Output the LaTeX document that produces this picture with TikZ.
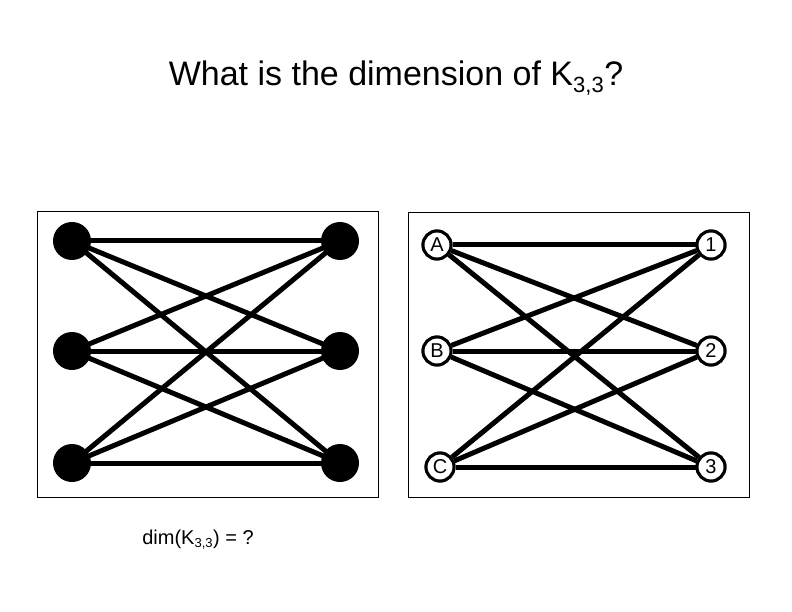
\documentclass[tikz,border=0pt]{standalone}
\usepackage{fontspec}
\setmainfont{Liberation Sans}
\begin{document}
\begin{tikzpicture}[x=1pt,y=-1pt,
  edge/.style={line width=5pt},
  dot/.style={circle,fill=black,minimum size=38pt,inner sep=0pt},
  lab/.style={circle,draw,line width=3pt,fill=white,minimum size=28pt,inner sep=0pt,font=\fontsize{20}{20}\selectfont},
  frame/.style={draw,line width=0.8pt}]
\useasboundingbox (0,0) rectangle (792,612);
\node (title) at (396,78) {\fontsize{34}{34}\selectfont What is the dimension of K$_{\textrm{\fontsize{22}{22}\selectfont 3,3}}$?};
\draw[frame] (37,211) rectangle (378,497);
\draw[frame] (408,212) rectangle (749,497);
\node[dot] (l1) at (72,241) {};
\node[dot] (l2) at (72,351) {};
\node[dot] (l3) at (72,463) {};
\node[dot] (r1) at (340,241) {};
\node[dot] (r2) at (340,351) {};
\node[dot] (r3) at (340,463) {};
\foreach \i in {1,2,3}{\foreach \j in {1,2,3}{\draw[edge] (l\i.center) -- (r\j.center);}}
\node[lab] (A) at (437,245) {};
\node[lab] (B) at (437,351) {};
\node[lab] (C) at (440,467) {};
\node[lab] (n1) at (711,245) {};
\node[lab] (n2) at (711,351) {};
\node[lab] (n3) at (711,467) {};
\foreach \a in {A,B,C}{\foreach \b in {n1,n2,n3}{\draw[edge] (\a) -- (\b);}}
\node[lab] at (A) {A};
\node[lab] at (B) {B};
\node[lab] at (C) {C};
\node[lab] at (n1) {1};
\node[lab] at (n2) {2};
\node[lab] at (n3) {3};
\node (dim) at (198,540) {\fontsize{20}{20}\selectfont dim(K$_{\textrm{\fontsize{13}{13}\selectfont 3,3}}$) = ?};
\end{tikzpicture}
\end{document}
